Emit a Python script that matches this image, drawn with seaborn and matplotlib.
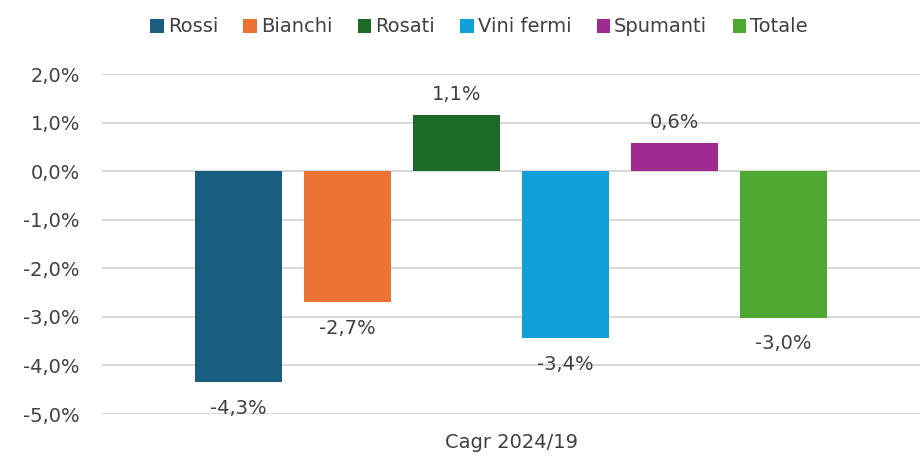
import pandas as pd
import matplotlib
matplotlib.use('Agg')
import matplotlib.pyplot as plt
import seaborn as sns

# Dati (CAGR 2024/19, %)
categorie = ['Rossi', 'Bianchi', 'Rosati', 'Vini fermi', 'Spumanti', 'Totale']
valori = [-4.34, -2.70, 1.15, -3.44, 0.58, -3.02]
periodo = 'Cagr 2024/19'
colori = ['#175e80', '#ec7334', '#1b6a26', '#12a0d9', '#a02b90', '#4fa832']
y_ticks = [2, 1, 0, -1, -2, -3, -4, -5]

df = pd.DataFrame({'periodo': periodo, 'categoria': categorie, 'valore': valori})

sns.set_theme(style='white')
plt.rcParams['font.family'] = ['DejaVu Sans']
testo = '#404040'

fig = plt.figure(figsize=(9.22, 4.58), dpi=100)
ax = fig.add_axes([102 / 922, 44 / 458, 818 / 922, 340 / 458])

sns.barplot(data=df, x='periodo', y='valore', hue='categoria', hue_order=categorie,
            palette=colori, width=0.8, gap=0.2, saturation=1, linewidth=0,
            legend=True, ax=ax, zorder=3)

def fmt(v):
    return f'{v:.1f}%'.replace('.', ',')

for cont in ax.containers:
    v = cont.datavalues[0]
    ax.bar_label(cont, labels=[fmt(v)], padding=8 if v > 0 else 12,
                 fontsize=14, color=testo)

ax.set_ylim(-5, 2)
ax.set_xlim(-0.5, 0.5)
ax.set_yticks(y_ticks)
ax.set_yticklabels([fmt(t) for t in y_ticks])
ax.yaxis.grid(True, color='#d9d9d9', linewidth=1.5, zorder=0)
ax.set_axisbelow(True)
ax.tick_params(axis='y', length=0, pad=16, labelsize=14, labelcolor=testo)
ax.tick_params(axis='x', length=0, pad=14, labelsize=14, labelcolor=testo)
ax.set_xlabel('')
ax.set_ylabel('')
sns.despine(ax=ax, left=True, bottom=True)

handles, labels = ax.get_legend_handles_labels()
ax.legend_.remove()
fig.legend(handles, labels, loc='center', bbox_to_anchor=(479 / 922, 1 - 27 / 458),
           ncol=6, frameon=False, fontsize=14, handlelength=0.7, handleheight=0.7,
           handletextpad=0.2, columnspacing=1.3, labelcolor=testo)

fig.savefig('out.png', dpi=100)
